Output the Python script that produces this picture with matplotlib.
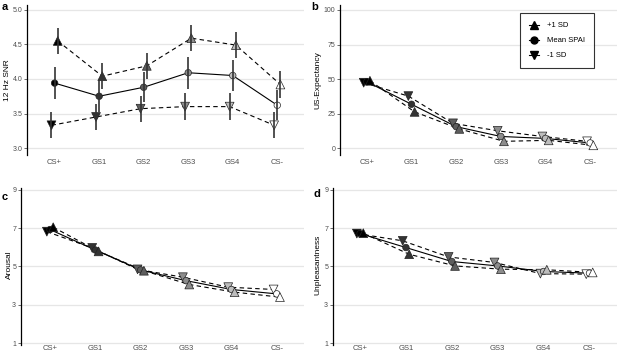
import matplotlib
matplotlib.use('Agg')
import matplotlib.pyplot as plt
from matplotlib.lines import Line2D

plt.rcParams['font.family'] = ['Liberation Sans', 'DejaVu Sans']

stimuli = ['CS+', 'GS1', 'GS2', 'GS3', 'GS4', 'CS-']
greys = ['#000000', '#333333', '#5e5e5e', '#8c8c8c', '#bdbdbd', '#ffffff']

# a: 12 Hz SNR
snr_plus = [4.55, 4.04, 4.19, 4.59, 4.49, 3.92]
snr_mean = [3.94, 3.75, 3.88, 4.09, 4.05, 3.62]
snr_minus = [3.33, 3.45, 3.57, 3.60, 3.60, 3.33]
snr_se_plus = [0.19, 0.19, 0.19, 0.19, 0.19, 0.19]
snr_se_mean = [0.23, 0.23, 0.22, 0.23, 0.23, 0.22]
snr_se_minus = [0.19, 0.19, 0.19, 0.19, 0.19, 0.19]

# b: US-Expectancy
exp_plus = [48.8, 26.3, 14.0, 5.0, 5.7, 2.1]
exp_mean = [48.1, 31.8, 15.6, 8.5, 7.1, 3.8]
exp_minus = [47.4, 37.7, 18.0, 12.6, 8.5, 5.0]

# c: Arousal
aro_plus = [7.05, 5.79, 4.78, 4.06, 3.66, 3.40]
aro_mean = [6.93, 5.86, 4.82, 4.26, 3.80, 3.57]
aro_minus = [6.82, 5.97, 4.85, 4.44, 3.92, 3.80]

# d: Unpleasantness
unp_plus = [6.74, 5.64, 5.03, 4.86, 4.83, 4.69]
unp_mean = [6.72, 5.99, 5.26, 5.03, 4.74, 4.65]
unp_minus = [6.72, 6.34, 5.50, 5.21, 4.63, 4.60]

W, H = 617, 354
fig = plt.figure(figsize=(W / 100, H / 100), dpi=100)


def px_axes(x0, x1, y0, y1):
    return fig.add_axes([x0 / W, 1 - y1 / H, (x1 - x0) / W, (y1 - y0) / H])


dodge = 0.07
dash = (0, (4, 3))


def panel(ax, plus, mean, minus, ylim, yticks, yticklabels, xlim,
          se=None, xpad=3):
    x = list(range(len(stimuli)))
    series = [(minus, -dodge, 'v', dash), (mean, 0, 'o', '-'),
              (plus, dodge, '^', dash)]
    for k, (vals, off, mk, ls) in enumerate(series):
        xs = [i + off for i in x]
        ax.plot(xs, vals, color='black', lw=0.8, linestyle=ls, zorder=2)
        ax.scatter(xs, vals, marker=mk, s=22 if mk == 'o' else 40,
                   c=greys, edgecolors='#222222', linewidths=0.5, zorder=3)
        if se is not None:
            ax.errorbar(xs, vals, yerr=se[k], fmt='none', ecolor='#333333',
                        elinewidth=1.2, capsize=0, zorder=4)
    ax.set_xlim(*xlim)
    ax.set_ylim(*ylim)
    ax.set_xticks(x)
    ax.set_xticklabels(stimuli)
    ax.set_yticks(yticks)
    ax.set_yticklabels(yticklabels)
    ax.grid(axis='y', color='#e6e6e6', lw=0.9)
    ax.set_axisbelow(True)
    for s in ['top', 'right', 'bottom']:
        ax.spines[s].set_visible(False)
    ax.spines['left'].set_color('black')
    ax.spines['left'].set_linewidth(0.9)
    ax.tick_params(axis='x', length=0, labelsize=5.5, labelcolor='#4d4d4d',
                   pad=xpad)
    ax.tick_params(axis='y', length=2, width=0.5, color='#333333',
                   labelsize=5, labelcolor='#4d4d4d', pad=1.5)


ax_a = px_axes(27, 304, 5, 155)
panel(ax_a, snr_plus, snr_mean, snr_minus, (2.9, 5.07),
      [3.0, 3.5, 4.0, 4.5, 5.0], ['3.0', '3.5', '4.0', '4.5', '5.0'],
      (-0.62, 5.6), se=[snr_se_minus, snr_se_mean, snr_se_plus])

ax_b = px_axes(340, 617, 5, 155)
panel(ax_b, exp_plus, exp_mean, exp_minus, (-4.9, 103.6),
      [0, 25, 50, 75, 100], ['0', '25', '50', '75', '100'], (-0.6, 5.6))

ax_c = px_axes(21, 304, 188, 345)
panel(ax_c, aro_plus, aro_mean, aro_minus, (0.9, 9.1),
      [1, 3, 5, 7, 9], ['1', '3', '5', '7', '9'], (-0.64, 5.6), xpad=0.3)

ax_d = px_axes(333, 617, 188, 345)
panel(ax_d, unp_plus, unp_mean, unp_minus, (0.9, 9.1),
      [1, 3, 5, 7, 9], ['1', '3', '5', '7', '9'], (-0.59, 5.6), xpad=0.3)

# axis titles
fig.text(8 / W, 1 - 80 / H, '12 Hz SNR', rotation=90, ha='center',
         va='center', fontsize=6)
fig.text(318 / W, 1 - 80 / H, 'US-Expectancy', rotation=90, ha='center',
         va='center', fontsize=6)
fig.text(9 / W, 1 - 265 / H, 'Arousal', rotation=90, ha='center',
         va='center', fontsize=6)
fig.text(318 / W, 1 - 265 / H, 'Unpleasantness', rotation=90, ha='center',
         va='center', fontsize=6)

# panel letters
for lab, xp, yp in [('a', 2, 7), ('b', 311, 7), ('c', 2, 197), ('d', 314, 194)]:
    fig.text(xp / W, 1 - yp / H, lab, fontsize=8, fontweight='bold',
             ha='left', va='center')

handles = [Line2D([0], [0], color='black', marker='^', markersize=6, lw=0.8),
           Line2D([0], [0], color='black', marker='o', markersize=5, lw=0.8),
           Line2D([0], [0], color='black', marker='v', markersize=6, lw=0.8)]
leg = ax_b.legend(handles, ['+1 SD', 'Mean SPAI', '-1 SD'],
                  loc='upper right', bbox_to_anchor=(598 / W, 1 - 9 / H),
                  bbox_transform=fig.transFigure, fontsize=5.5,
                  frameon=True, fancybox=False, handlelength=1.4,
                  handletextpad=1.0, borderpad=1.2, labelspacing=1.0)
leg.get_frame().set_edgecolor('black')
leg.get_frame().set_linewidth(0.8)

fig.savefig('out.png', dpi=100)
